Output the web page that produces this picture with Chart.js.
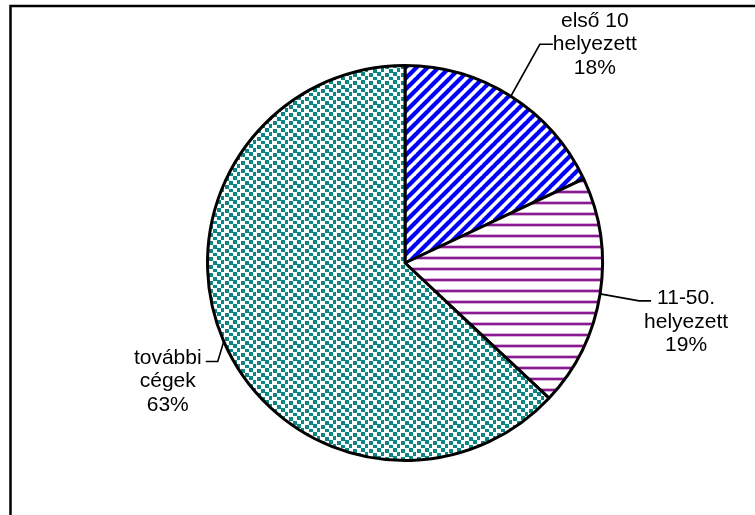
<!DOCTYPE html>
<html>
<head>
<meta charset="utf-8">
<script src="https://cdn.jsdelivr.net/npm/chart.js@4.4.1/dist/chart.umd.min.js"></script>
<style>
  html, body { margin: 0; padding: 0; background: #fff; }
  #wrap { position: relative; width: 755px; height: 515px; }
</style>
</head>
<body>
<div id="wrap"><canvas id="chart" width="755" height="515"></canvas></div>
<script>
/* data */
var CATEGORIES = [['első 10', 'helyezett'], ['11-50.', 'helyezett'], ['további', 'cégek']];
var VALUES = [18, 19, 63];

(function () {
  'use strict';

  /* fill patterns, Excel style */
  function makePattern(w, h, paint) {
    var c = document.createElement('canvas');
    c.width = w; c.height = h;
    var g = c.getContext('2d');
    g.fillStyle = '#fff';
    g.fillRect(0, 0, w, h);
    paint(g, w, h);
    return g.createPattern(c, 'repeat');
  }

  var ctx = document.getElementById('chart').getContext('2d');

  var blueStripes = makePattern(11, 11, function (g, w) {
    g.strokeStyle = '#0000ff';
    g.lineWidth = 4.2;
    for (var k = -1; k <= 1; k++) {
      g.beginPath();
      g.moveTo(k * w - 1, w + 1);
      g.lineTo(k * w + w + 1, -1);
      g.stroke();
    }
  });

  var purpleLines = makePattern(8, 11, function (g, w) {
    g.fillStyle = '#d8aedb';
    g.fillRect(0, 3, w, 1);
    g.fillRect(0, 6, w, 1);
    g.fillStyle = '#8a1a92';
    g.fillRect(0, 4, w, 2);
  });

  // staggered "confetti" dots
  var tealDots = makePattern(16, 16, function (g) {
    g.fillStyle = '#0b8783';
    [[1, 1], [9, 0], [5, 5], [13, 4], [1, 9], [9, 8], [5, 13], [13, 12]].forEach(function (d) {
      g.fillRect(d[0], d[1], 4, 4);
    });
  });

  /* leader + label layout, offsets from the slice's mid-arc point */
  var LABEL_LAYOUT = [
    { elbow: [29, -52], end: [42, -52], text: [84, -52] },
    { elbow: [39, 7], end: [51, 7], text: [86, 28] },
    { elbow: [-6, 20], end: [-18, 20], text: [-56, 40] }
  ];

  var framePlugin = {
    id: 'frame',
    beforeDraw: function (chart) {
      var c = chart.ctx;
      c.save();
      c.strokeStyle = '#000';
      c.lineWidth = 2.5;
      c.strokeRect(10.5, 6, 900, 700);
      c.restore();
    }
  };

  var labelPlugin = {
    id: 'sliceLabels',
    afterDatasetsDraw: function (chart) {
      var c = chart.ctx;
      var meta = chart.getDatasetMeta(0);
      var total = VALUES.reduce(function (a, b) { return a + b; }, 0);
      c.save();
      c.font = '21px "Liberation Sans", Arial, sans-serif';
      c.fillStyle = '#000';
      c.textAlign = 'center';
      c.textBaseline = 'middle';
      meta.data.forEach(function (arc, i) {
        var p = arc.getProps(['x', 'y', 'startAngle', 'endAngle', 'outerRadius'], true);
        var mid = (p.startAngle + p.endAngle) / 2;
        var ax = p.x + Math.cos(mid) * p.outerRadius;
        var ay = p.y + Math.sin(mid) * p.outerRadius;
        var L = LABEL_LAYOUT[i];
        c.strokeStyle = '#000';
        c.lineWidth = 1.6;
        c.beginPath();
        c.moveTo(ax, ay);
        c.lineTo(ax + L.elbow[0], ay + L.elbow[1]);
        c.lineTo(ax + L.end[0], ay + L.end[1]);
        c.stroke();
        var lines = CATEGORIES[i].concat(Math.round(VALUES[i] / total * 100) + '%');
        var tx = ax + L.text[0], ty = ay + L.text[1];
        lines.forEach(function (t, j) {
          c.fillText(t, tx, ty + (j - 1) * 23.5);
        });
      });
      c.restore();
    }
  };

  new Chart(ctx, {
    type: 'pie',
    data: {
      labels: CATEGORIES.map(function (l) { return l.join(' '); }),
      datasets: [{
        data: VALUES,
        backgroundColor: [blueStripes, purpleLines, tealDots],
        borderColor: '#000',
        borderWidth: 3,
        hoverOffset: 0
      }]
    },
    options: {
      responsive: false,
      animation: false,
      devicePixelRatio: 1,
      layout: { padding: { left: 206, right: 151, top: 64, bottom: 53 } },
      plugins: {
        legend: { display: false },
        tooltip: { enabled: false }
      }
    },
    plugins: [framePlugin, labelPlugin]
  });
})();
</script>
</body>
</html>
